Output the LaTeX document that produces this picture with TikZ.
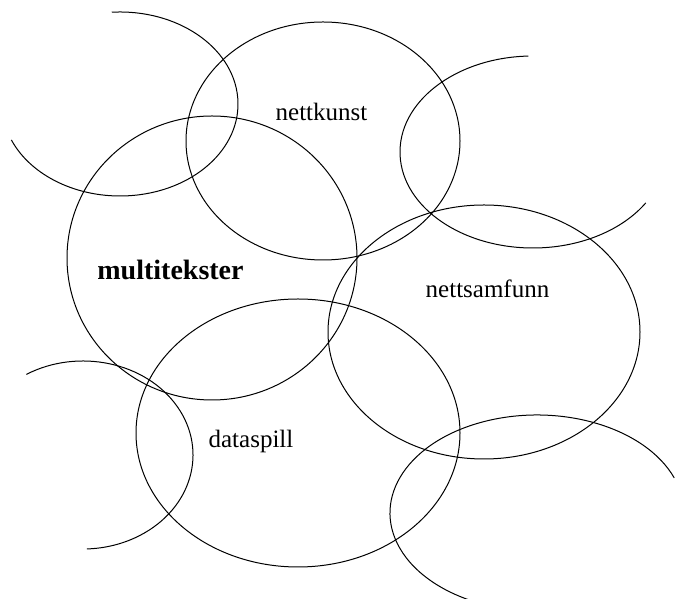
\documentclass[tikz,border=0pt]{standalone}
\usepackage{fontspec}
\setmainfont{Liberation Serif}
\usetikzlibrary{calc}
\begin{document}
\begin{tikzpicture}[x=1pt,y=1pt,
  ring/.style={draw=black,line width=1pt},
  lbl/.style={anchor=base,inner sep=0pt,font=\fontsize{25}{30}\selectfont},
  lblbig/.style={anchor=base,inner sep=0pt,font=\bfseries\fontsize{28}{33}\selectfont}]
\useasboundingbox[fill=white] (0,0) rectangle (675,599);
% full ellipses
\draw[ring] (323,458) ellipse [x radius=137, y radius=119];
\draw[ring] (212,341) ellipse [x radius=145, y radius=142];
\draw[ring] (484,267) ellipse [x radius=156, y radius=127];
\draw[ring] (298,166) ellipse [x radius=162, y radius=134];
% partial arcs
\draw[ring] ($(120,495)+({118*cos(94)},{92*sin(94)})$) arc[start angle=94, end angle=-157, x radius=118, y radius=92];
\draw[ring] ($(533,447)+({133*cos(92)},{96*sin(92)})$) arc[start angle=92, end angle=328, x radius=133, y radius=96];
\draw[ring] ($(83,144)+({110*cos(121)},{94*sin(121)})$) arc[start angle=121, end angle=-88, x radius=110, y radius=94];
\draw[ring] ($(537,86)+({147*cos(21)},{98*sin(21)})$) arc[start angle=21, end angle=250, x radius=147, y radius=98];
% labels
\node[lbl] (nettkunst) at (321.5,478) {nettkunst};
\node[lblbig] (multitekster) at (170.5,319) {multitekster};
\node[lbl] (nettsamfunn) at (487.5,301) {nettsamfunn};
\node[lbl] (dataspill) at (251,151) {dataspill};
\end{tikzpicture}
\end{document}
